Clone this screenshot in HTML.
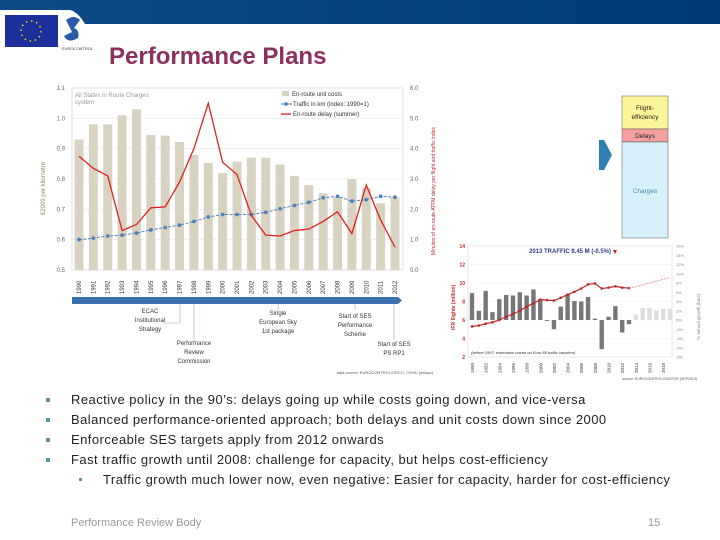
<!DOCTYPE html>
<html><head><meta charset="utf-8"><style>
body{margin:0;width:720px;height:540px;overflow:hidden;background:#fff;font-family:"Liberation Sans",sans-serif;position:relative}
.b{position:absolute;font-size:13px;letter-spacing:0.45px;color:#222;white-space:nowrap}
.sq{position:absolute;width:4px;height:4px;background:#5b8fa8}
</style></head><body>
<svg id="top" width="720" height="80" style="position:absolute;left:0;top:0">
<defs><linearGradient id="hg" x1="0" x2="1"><stop offset="0" stop-color="#0d4a86"/><stop offset="1" stop-color="#003a78"/></linearGradient></defs>
<path d="M0 0H720V24H85Q78 12 70 10H0Z" fill="url(#hg)"/>
<rect x="5" y="15" width="53" height="32" fill="#1c2f9a"/>
<circle cx="31" cy="31" r="10" fill="none" stroke="#ffd800" stroke-width="1.5" stroke-dasharray="1.5 3.7"/>
<path d="M66 20q8-6 14 0l-6 8q6 2 4 10q-10 6-14-2l8-4z" fill="#2a5ba8"/>
<text x="62" y="50" font-size="4" fill="#333">EUROCONTROL</text>
<text x="109" y="64" font-size="24" font-weight="bold" fill="#8b3060">Performance Plans</text>
</svg>
<svg id="main" width="720" height="540" style="position:absolute;left:0;top:0"></svg>
<div class="sq" style="left:46px;top:398px"></div>
<div class="b" style="left:71px;top:392px">Reactive policy in the 90’s: delays going up while costs going down, and vice-versa</div>
<div class="sq" style="left:46px;top:418px"></div>
<div class="b" style="left:71px;top:412px">Balanced performance-oriented approach; both delays and unit costs down since 2000</div>
<div class="sq" style="left:46px;top:438px"></div>
<div class="b" style="left:71px;top:432px">Enforceable SES targets apply from 2012 onwards</div>
<div class="sq" style="left:46px;top:458px"></div>
<div class="b" style="left:71px;top:452px">Fast traffic growth until 2008: challenge for capacity, but helps cost-efficiency</div>
<div class="sq" style="left:79px;top:478px;width:3px;height:3px"></div>
<div class="b" style="left:103px;top:472px">Traffic growth much lower now, even negative: Easier for capacity, harder for cost-efficiency</div>
<div class="b" style="left:71px;top:517px;font-size:11px;letter-spacing:0;color:#999">Performance Review Body</div>
<div class="b" style="left:648px;top:517px;font-size:11px;letter-spacing:0;color:#999">15</div>
<script>
const years=[1990,1991,1992,1993,1994,1995,1996,1997,1998,1999,2000,2001,2002,2003,2004,2005,2006,2007,2008,2009,2010,2011,2012];
const unitCosts=[0.93,0.98,0.98,1.01,1.03,0.945,0.943,0.922,0.88,0.853,0.82,0.857,0.87,0.87,0.848,0.81,0.78,0.753,0.74,0.80,0.77,0.72,0.74];
const trafficIdx=[1.0,1.05,1.12,1.15,1.22,1.32,1.4,1.48,1.6,1.75,1.83,1.83,1.83,1.9,2.02,2.13,2.23,2.38,2.43,2.27,2.32,2.43,2.4];
const delay=[3.75,3.35,3.1,1.3,1.5,2.05,2.08,2.9,4.0,5.5,3.55,3.15,1.8,1.15,1.12,1.3,1.35,1.6,1.92,1.2,2.8,1.65,0.75];
const leftTicks=[0.5,0.6,0.7,0.8,0.9,1.0,1.1];
const rightTicks=[0,1,2,3,4,5,6];
const sYears=[1990,1991,1992,1993,1994,1995,1996,1997,1998,1999,2000,2001,2002,2003,2004,2005,2006,2007,2008,2009,2010,2011,2012,2013];
const sFlights=[5.3,5.4,5.6,5.75,6.0,6.35,6.65,7.0,7.45,7.8,8.2,8.15,8.1,8.4,8.75,9.05,9.4,9.85,9.95,9.4,9.5,9.65,9.5,9.45];
const sGrowth=[5.8,2.0,6.3,1.7,4.5,5.4,5.3,6.0,5.3,6.6,4.5,-0.2,-2.0,2.9,5.5,4.1,4.0,5.0,0.3,-6.3,0.7,3.0,-2.7,-0.9];
const fYears=[2014,2015,2016,2017,2018,2019];
const fFlights=[9.6,9.8,10.0,10.2,10.4,10.6];
const fGrowth=[1.2,2.6,2.6,2.1,2.4,2.4];
const sLeftTicks=[2,4,6,8,10,12,14];
const sRightTicks=[-8,-6,-4,-2,0,2,4,6,8,10,12,14,16];

const svg=document.getElementById('main');const NS='http://www.w3.org/2000/svg';
function mk(t,a,txt){const e=document.createElementNS(NS,t);for(const k in a)e.setAttribute(k,a[k]);if(txt!=null)e.textContent=txt;svg.appendChild(e);return e;}
const X0=72,X1=403,YT=88,YB=270;
const xm=i=>79+i*(395-79)/(years.length-1);
const yl=v=>YB-(v-0.5)/0.6*(YB-YT);
const yr=v=>YB-v/6*(YB-YT);
let e=mk('rect',{x:X0,y:YT,width:X1-X0,height:YB-YT,fill:'#fff',stroke:'#ccc','stroke-width':0.6});

leftTicks.forEach(t=>{mk('line',{x1:X0,x2:X1,y1:yl(t),y2:yl(t),stroke:'#e6e6e6','stroke-width':0.6});
 e=mk('text',{x:X0-7,y:yl(t)+2,'font-size':6,fill:'#666','text-anchor':'end'},t.toFixed(1));
 });
rightTicks.forEach(t=>{e=mk('text',{x:410,y:yr(t)+2,'font-size':6,fill:'#666'},t.toFixed(1));
 });
years.forEach((y,i)=>{e=mk('rect',{x:xm(i)-4.5,y:yl(unitCosts[i]),width:9,height:YB-yl(unitCosts[i]),fill:'#d8d3c1'});
 
 e=mk('text',{transform:`translate(${xm(i)+2},${YB+24}) rotate(-90)`,'font-size':6,fill:'#333'},y);
 });
e=mk('polyline',{points:trafficIdx.map((v,i)=>xm(i)+','+yr(v)).join(' '),fill:'none',stroke:'#4f81bd','stroke-width':1,'stroke-dasharray':'3 1.5'});

trafficIdx.forEach((v,i)=>{e=mk('circle',{cx:xm(i),cy:yr(v),r:1.9,fill:'#4f81bd'});});
e=mk('polyline',{points:delay.map((v,i)=>xm(i)+','+yr(v)).join(' '),fill:'none',stroke:'#e02020','stroke-width':1.3});

mk('text',{x:75,y:97,'font-size':6,fill:'#999'},'All States in Route Charges');mk('text',{x:75,y:104,'font-size':6,fill:'#999'},'system');
e=mk('g',{});
mk('rect',{x:282,y:91,width:7,height:5,fill:'#d8d3c1'});mk('text',{x:292,y:96,'font-size':6,fill:'#333'},'En-route unit costs');
mk('line',{x1:281,x2:292,y1:104,y2:104,stroke:'#4f81bd'});mk('circle',{cx:286,cy:104,r:1.9,fill:'#4f81bd'});mk('text',{x:293,y:106,'font-size':6,fill:'#333'},'Traffic in km  (index: 1990=1)');
mk('line',{x1:281,x2:291,y1:114,y2:114,stroke:'#e02020','stroke-width':1.3});mk('text',{x:293,y:116,'font-size':6,fill:'#333'},'En-route delay (summer)');
e=mk('text',{transform:'translate(45,215) rotate(-90)','font-size':6,fill:'#9a8a5a'},'€2009 per kilometre');
e=mk('text',{transform:'translate(435,255) rotate(-90)','font-size':5,fill:'#c0262b'},'Minutes of en-route ATFM delay per flight and traffic index');
e=mk('path',{d:'M72 297H398L402 300.5L398 304H72Z',fill:'#3a6fb0'});
const ann=[[180,['ECAC','Institutional','Strategy'],313,'M180 304V323H162'],[194,['Performance','Review','Commission'],345,'M194 304V342'],[278,['Single','European Sky','1st package'],315,'M278 304V312'],[355,['Start of SES','Performance','Scheme'],318,'M355 304V310'],[394,['Start of SES','PS RP1'],346,'M394 304V340']];
ann.forEach(a=>{mk('path',{d:a[3],fill:'none',stroke:'#9aa','stroke-width':0.6});a[1].forEach((s,k)=>{e=mk('text',{x:a[0]-(a[0]==180?30:0),y:a[2]+k*9,'font-size':6,fill:'#333','text-anchor':'middle'},s);});});
mk('text',{x:433,y:374,'font-size':4,fill:'#555','text-anchor':'end'},'data source: EUROCONTROL/CRCO, CFMU (delays)');
e=mk('path',{d:'M599 140H604L612 155L604 170H599Z',fill:'#2f7fb0'});
e=mk('rect',{x:622,y:96,width:46,height:33,fill:'#fbf59a',stroke:'#555','stroke-width':0.5});
mk('text',{x:645,y:110,'font-size':6.5,'text-anchor':'middle',fill:'#222'},'Flight-');mk('text',{x:645,y:119,'font-size':6.5,'text-anchor':'middle',fill:'#222'},'efficiency');
e=mk('rect',{x:622,y:129,width:46,height:13,fill:'#f4a0a0',stroke:'#555','stroke-width':0.5});
mk('text',{x:645,y:138,'font-size':6.5,'text-anchor':'middle',fill:'#222'},'Delays');
e=mk('rect',{x:622,y:142,width:46,height:96,fill:'#d8f0fa',stroke:'#555','stroke-width':0.5});
mk('text',{x:645,y:193,'font-size':6.5,'text-anchor':'middle',fill:'#4a8ab0'},'Charges');
const SX0=468,SX1=672,SYT=246,SYB=357;
const sx=y=>472+(y-1990)*(670-472)/29;
const syl=v=>SYB-(v-2)/12*(SYB-SYT);
const syr=v=>SYB-(v+8)/24*(SYB-SYT);
e=mk('rect',{x:SX0,y:SYT,width:SX1-SX0,height:SYB-SYT,fill:'#fff',stroke:'#ccc','stroke-width':0.5});
sLeftTicks.forEach(t=>{mk('line',{x1:SX0,x2:SX1,y1:syl(t),y2:syl(t),stroke:'#eee','stroke-width':0.5});e=mk('text',{x:SX0-3,y:syl(t)+2,'font-size':5,fill:'#c0262b','text-anchor':'end','font-weight':'bold'},t);});
sRightTicks.forEach(t=>{e=mk('text',{x:SX1+4,y:syr(t)+1.5,'font-size':4,fill:'#888'},t+'%');});
sGrowth.forEach((v,i)=>{const y0=syr(0),y1=syr(v);e=mk('rect',{x:sx(sYears[i])-2.2,y:Math.min(y0,y1),width:4.4,height:Math.abs(y1-y0),fill:'#777'});});
fGrowth.forEach((v,i)=>{const y0=syr(0),y1=syr(v);e=mk('rect',{x:sx(fYears[i])-2.2,y:Math.min(y0,y1),width:4.4,height:Math.abs(y1-y0),fill:'#ddd'});});
e=mk('polyline',{points:sFlights.map((v,i)=>sx(sYears[i])+','+syl(v)).join(' '),fill:'none',stroke:'#c0262b','stroke-width':1.2});
sFlights.forEach((v,i)=>{e=mk('circle',{cx:sx(sYears[i]),cy:syl(v),r:1.3,fill:'#c0262b'});});
e=mk('polyline',{points:[[2013,sFlights[sFlights.length-1]]].concat(fYears.map((y,i)=>[y,fFlights[i]])).map(p=>sx(p[0])+','+syl(p[1])).join(' '),fill:'none',stroke:'#e79ab0','stroke-width':1,'stroke-dasharray':'2 1'});
e=mk('text',{x:570,y:253,'font-size':6,'font-weight':'bold',fill:'#333a80','text-anchor':'middle'},'2013 TRAFFIC 9.45 M (-0.5%)');
mk('path',{d:'M613 250h4l-2 4z',fill:'#c0262b'});
for(let yy=1990;yy<=2018;yy+=2){e=mk('text',{transform:`translate(${sx(yy)+2},${SYB+16}) rotate(-90)`,'font-size':4.5,fill:'#333'},yy);}
mk('text',{x:471,y:354,'font-size':4,fill:'#333','font-style':'italic'},'(before 1997, estimation based on Euro 88 traffic variation)');
mk('text',{transform:'translate(455,330) rotate(-90)','font-size':5,fill:'#c0262b','font-weight':'bold'},'IFR flights (million)');
mk('text',{transform:'translate(700,340) rotate(-90)','font-size':4.5,fill:'#888'},'% annual growth (bars)');
mk('text',{x:697,y:380,'font-size':3.5,fill:'#555','text-anchor':'end'},'source: EUROCONTROL/STATFOR (SEP2013)');
</script>
</body></html>
